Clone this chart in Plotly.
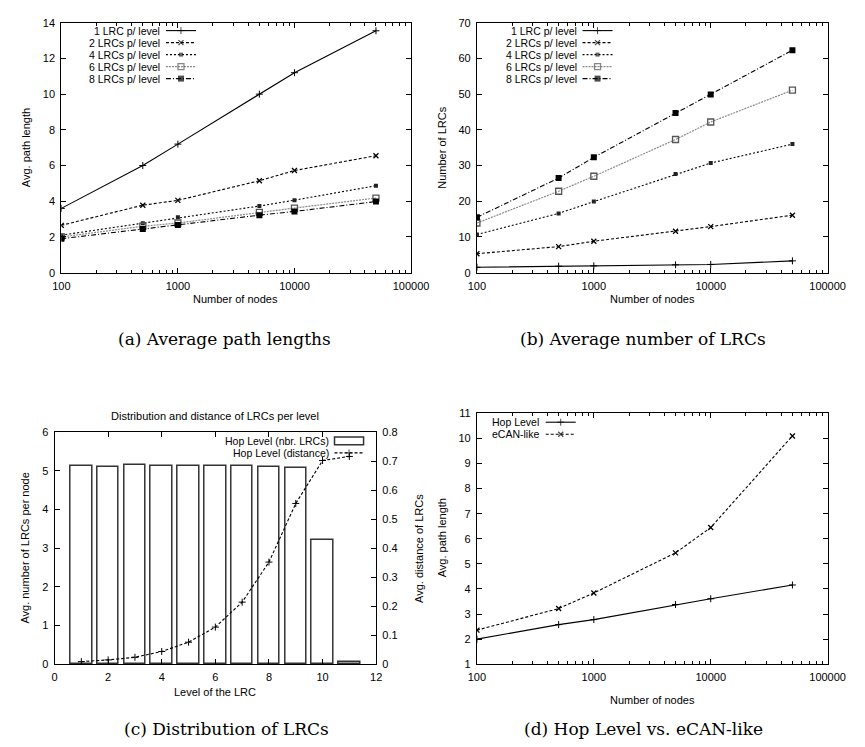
import plotly.graph_objects as go

W, H = 865, 747

# ---------------- data ----------------
nodes = [100, 500, 1000, 5000, 10000, 50000]
series_names = ["1 LRC p/ level", "2 LRCs p/ level", "4 LRCs p/ level",
                "6 LRCs p/ level", "8 LRCs p/ level"]
path_1 = [3.6, 6.0, 7.2, 10.0, 11.2, 13.55]
path_2 = [2.65, 3.78, 4.05, 5.15, 5.72, 6.55]
path_4 = [2.1, 2.77, 3.1, 3.73, 4.06, 4.87]
path_6 = [2.0, 2.6, 2.78, 3.38, 3.62, 4.18]
path_8 = [1.9, 2.45, 2.67, 3.22, 3.43, 3.98]

lrc_1 = [1.5, 1.8, 1.9, 2.2, 2.3, 3.3]
lrc_2 = [5.3, 7.3, 8.8, 11.6, 12.9, 16.1]
lrc_4 = [10.7, 16.6, 19.9, 27.6, 30.7, 36.0]
lrc_6 = [13.9, 22.8, 27.0, 37.3, 42.2, 51.1]
lrc_8 = [15.5, 26.5, 32.3, 44.7, 49.9, 62.3]

levels = [1, 2, 3, 4, 5, 6, 7, 8, 9, 10, 11]
nbr_lrcs = [5.13, 5.09, 5.14, 5.13, 5.12, 5.12, 5.11, 5.10, 5.07, 3.2, 0.07]
distance = [0.009, 0.015, 0.024, 0.044, 0.076, 0.128, 0.214, 0.352, 0.554, 0.702, 0.716]

hop_level = [2.0, 2.58, 2.78, 3.38, 3.61, 4.16]
ecan_like = [2.36, 3.22, 3.84, 5.44, 6.45, 10.1]

log_ticks = [100, 1000, 10000, 100000]
log_ticktext = ["100", "1000", "10000", "100000"]

# ---------------- layout helpers ----------------
SANS = "Liberation Sans, Arial, sans-serif"
SERIF = "DejaVu Serif, serif"
FS = 11
LFS = 10.5

# panel boxes in pixels: left, top, right, bottom
BOX_A = (54, 17, 415, 271)
BOX_B = (483, 17, 845, 271)
BOX_C = (47, 433, 379, 669)
BOX_D = (483, 414, 845, 669)


def xdom(b):
    return [b[0] / W, b[2] / W]


def ydom(b):
    return [1 - b[3] / H, 1 - b[1] / H]


minor_vals = [m * 10 ** e for e in range(2, 5) for m in range(2, 10)]

axis_common = dict(showline=True, linecolor="black", linewidth=1,
                   ticks="inside", ticklen=5, tickcolor="black", tickwidth=1,
                   showgrid=False, zeroline=False, ticklabelstandoff=3,
                   tickfont=dict(family=SANS, size=FS, color="black"))


def log_x(box, anchor):
    return dict(axis_common, type="log", range=[2, 5], domain=xdom(box), anchor=anchor,
                tickvals=log_ticks, ticktext=log_ticktext, mirror="ticks",
                minor=dict(tickvals=minor_vals, ticks="inside", ticklen=3,
                           tickcolor="black", showgrid=False))


styles = [
    dict(line=dict(color="black", width=1.1, dash="solid"),
         marker=dict(symbol="cross-thin", size=5, color="black", line=dict(width=1, color="black"))),
    dict(line=dict(color="black", width=1.1, dash="3px,2px"),
         marker=dict(symbol="x-thin", size=5, color="black", line=dict(width=1.3, color="black"))),
    dict(line=dict(color="black", width=1.1, dash="2px,2px"),
         marker=dict(symbol="square", size=4, color="#222", line=dict(width=0))),
    dict(line=dict(color="#8a8a8a", width=1.2, dash="2px,1px"),
         marker=dict(symbol="square-open", size=6, color="#555", line=dict(width=1.3, color="#555"))),
    dict(line=dict(color="black", width=1.1, dash="5px,2px,1px,2px"),
         marker=dict(symbol="square", size=6, color="black", line=dict(width=0))),
]

fig = go.Figure()

# ---- (a) ----
for name, vals, st in zip(series_names, [path_1, path_2, path_4, path_6, path_8], styles):
    fig.add_trace(go.Scatter(x=nodes, y=vals, name=name, mode="lines+markers",
                             line=st["line"], marker=st["marker"],
                             xaxis="x", yaxis="y", showlegend=False))
# ---- (b) ----
for name, vals, st in zip(series_names, [lrc_1, lrc_2, lrc_4, lrc_6, lrc_8], styles):
    fig.add_trace(go.Scatter(x=nodes, y=vals, name=name, mode="lines+markers",
                             line=st["line"], marker=st["marker"],
                             xaxis="x2", yaxis="y2", showlegend=False))
# ---- (c) ----
fig.add_trace(go.Bar(x=levels, y=nbr_lrcs, width=0.8, name="Hop Level (nbr. LRCs)",
                     marker=dict(color="white", line=dict(color="#333", width=1.5)),
                     xaxis="x3", yaxis="y3", showlegend=False))
fig.add_trace(go.Scatter(x=levels, y=distance, name="Hop Level (distance)", mode="lines+markers",
                         line=styles[1]["line"], marker=styles[0]["marker"],
                         xaxis="x3", yaxis="y4", showlegend=False))
# ---- (d) ----
fig.add_trace(go.Scatter(x=nodes, y=hop_level, name="Hop Level", mode="lines+markers",
                         line=styles[0]["line"], marker=styles[0]["marker"],
                         xaxis="x4", yaxis="y5", showlegend=False))
fig.add_trace(go.Scatter(x=nodes, y=ecan_like, name="eCAN-like", mode="lines+markers",
                         line=styles[1]["line"], marker=styles[1]["marker"],
                         xaxis="x4", yaxis="y5", showlegend=False))

# ---------------- gnuplot-style legends (text left, key right) ----------------
annotations = []
shapes = []


def legend_entry(text, text_right, key_x0, key_x1, y, style=None, box=False):
    annotations.append(dict(text=text, x=text_right / W, y=1 - y / H, xref="paper", yref="paper",
                            xanchor="right", yanchor="middle", showarrow=False, borderpad=0,
                            font=dict(family=SANS, size=LFS, color="black")))
    if box:
        shapes.append(dict(type="rect", xref="x5", yref="y6", x0=key_x0, x1=key_x1,
                           y0=y - 4, y1=y + 4, line=dict(color="#333", width=1.5),
                           fillcolor="white"))
    else:
        mid = (key_x0 + key_x1) / 2
        m = dict(style["marker"])
        m["size"] = [0, style["marker"]["size"], 0]
        fig.add_trace(go.Scatter(x=[key_x0, mid, key_x1], y=[y, y, y], mode="lines+markers",
                                 line=style["line"], marker=m, xaxis="x5", yaxis="y6",
                                 showlegend=False, hoverinfo="skip"))


rows = [25, 37.2, 49.4, 61.6, 73.8]
for name, st, ry in zip(series_names, styles, rows):
    legend_entry(name, 157, 162, 193, ry, st)
    legend_entry(name, 587, 592, 623, ry, st)

legend_entry("Hop Level (nbr. LRCs)", 331, 336, 366, 442, box=True)
legend_entry("Hop Level (distance)", 331, 336, 366, 454.2, styles[1] | {"marker": styles[0]["marker"]})

legend_entry("Hop Level", 548, 554, 585, 423, styles[0])
legend_entry("eCAN-like", 548, 554, 585, 435.2, styles[1])


# ---------------- titles and captions ----------------
def text(t, px, py, size=FS, family=SANS, angle=0):
    annotations.append(dict(text=t, x=px / W, y=1 - py / H, xref="paper", yref="paper",
                            xanchor="center", yanchor="middle", showarrow=False,
                            textangle=angle, font=dict(family=family, size=size, color="black")))


text("Number of nodes", 234, 298)
text("Number of nodes", 664, 298)
text("Level of the LRC", 213, 697)
text("Number of nodes", 664, 705)

text("Avg. path length", 17, 144, angle=-90)
text("Number of LRCs", 447, 144, angle=-90)
text("Avg. number of LRCs per node", 17, 551, angle=-90)
text("Avg. distance of LRCs", 423, 551, angle=-90)
text("Avg. path length", 447, 541, angle=-90)

text("Distribution and distance of LRCs per level", 213, 417)

text("(a) Average path lengths", 222, 338, size=17, family=SERIF)
text("(b) Average number of LRCs", 654, 338, size=17, family=SERIF)
text("(c) Distribution of LRCs", 224, 735, size=17, family=SERIF)
text("(d) Hop Level vs. eCAN-like", 655, 735, size=17, family=SERIF)

fig.update_layout(
    width=W, height=H,
    margin=dict(l=0, r=0, t=0, b=0),
    paper_bgcolor="white", plot_bgcolor="rgba(0,0,0,0)",
    showlegend=False,
    bargap=0,
    xaxis=log_x(BOX_A, "y"),
    yaxis=dict(axis_common, range=[0, 14], dtick=2, domain=ydom(BOX_A), anchor="x", mirror="ticks"),
    xaxis2=log_x(BOX_B, "y2"),
    yaxis2=dict(axis_common, range=[0, 70], dtick=10, domain=ydom(BOX_B), anchor="x2", mirror="ticks"),
    xaxis3=dict(axis_common, range=[0, 12], dtick=2, domain=xdom(BOX_C), anchor="y3", mirror="ticks"),
    yaxis3=dict(axis_common, range=[0, 6], dtick=1, domain=ydom(BOX_C), anchor="x3", mirror=False),
    yaxis4=dict(axis_common, range=[0, 0.8], dtick=0.1, overlaying="y3", side="right", anchor="x3"),
    xaxis4=log_x(BOX_D, "y5"),
    yaxis5=dict(axis_common, range=[1, 11], dtick=1, domain=ydom(BOX_D), anchor="x4", mirror="ticks"),
    xaxis5=dict(domain=[0, 1], range=[0, W], visible=False, fixedrange=True, anchor="y6"),
    yaxis6=dict(domain=[0, 1], range=[H, 0], visible=False, fixedrange=True, anchor="x5"),
    annotations=annotations,
    shapes=shapes,
)

fig.write_html("out.html", config={"displayModeBar": False},
               post_script="document.body.style.margin='0';")
